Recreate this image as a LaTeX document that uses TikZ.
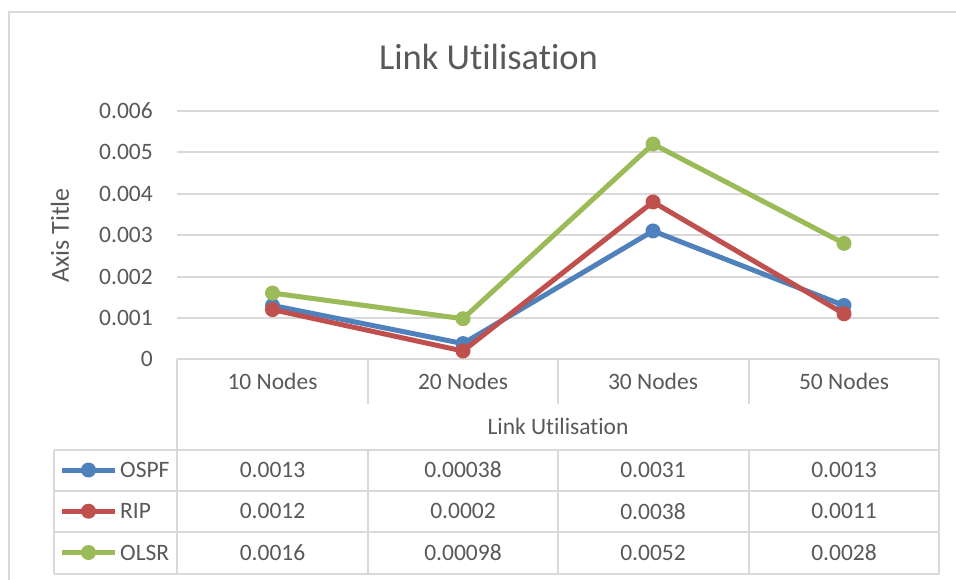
\documentclass[tikz,border=0pt]{standalone}
\usepackage{fontspec}
\setmainfont{Carlito}[Ligatures=NoCommon]
\usetikzlibrary{calc}
\definecolor{txt}{HTML}{595959}
\definecolor{gridc}{HTML}{D9D9D9}
\definecolor{ospf}{HTML}{4F81BD}
\definecolor{rip}{HTML}{C0504D}
\definecolor{olsr}{HTML}{9BBB59}
\begin{document}
\begin{tikzpicture}[x=1pt,y=-1pt,
  lbl/.style={text=txt,font=\fontsize{23.5}{28}\selectfont,inner sep=0pt},
  axl/.style={text=txt,font=\fontsize{26}{30}\selectfont,inner sep=0pt},
  ttl/.style={text=txt,font=\fontsize{36.5}{40}\selectfont,inner sep=0pt},
  rule/.style={draw=gridc,line width=2pt},
  series/.style={line width=5pt,line join=round,line cap=round},
  dot/.style={circle,fill=#1,inner sep=0pt,minimum size=15pt}]
\useasboundingbox (0,0) rectangle (956,579);
\fill[white] (0,0) rectangle (956,579);

% chart area frame
\draw[rule] (9,590) -- (9,12) -- (970,12);

% title and axis title
\node[ttl] (title) at (488.5,56.5) {Link Utilisation};
\node[axl,rotate=90] (ytitle) at (60,235.5) {Axis Title};

% horizontal gridlines and tick labels
\foreach \v/\t in {1/0.001,2/0.002,3/0.003,4/0.004,5/0.005,6/0.006}{
  \draw[rule] (177,{359.3-41.4*\v}) -- (939,{359.3-41.4*\v});
  \node[lbl,anchor=east] (tick\v) at (153,{359.3-41.4*\v}) {\t};
}
\node[lbl,anchor=east] (tick0) at (153,359.3) {0};

% data table grid
\draw[rule] (177,359.3) -- (939,359.3);
\draw[rule] (177,359.3) -- (177,574);
\draw[rule] (939,359.3) -- (939,574);
\foreach \x in {367.7,557.7,748.7}{
  \draw[rule] (\x,359.3) -- (\x,404.3);
  \draw[rule] (\x,450) -- (\x,574);
}
\foreach \y in {450,491,532.3,574}{
  \draw[rule] (54.3,\y) -- (939,\y);
}
\draw[rule] (54.3,450) -- (54.3,574);

% category labels
\foreach \x/\c [count=\i] in {272.5/10,463/20,653/30,844/50}{
  \node[lbl] (cat\i) at (\x,381.5) {\c\ Nodes};
}
\node[lbl] (xtitle) at (558,426.5) {Link Utilisation};

% table values
\foreach \r/\y in {ospf/470,rip/511.2,olsr/552.5}{
  \coordinate (\r-la) at (62,\y);
  \coordinate (\r-lb) at (115,\y);
}
\foreach \a/\b/\c/\d [count=\i] in {0.0013/0.0012/0.0016/272.5,0.00038/0.0002/0.00098/463,0.0031/0.0038/0.0052/653,0.0013/0.0011/0.0028/844}{
  \node[lbl] (vo\i) at (\d,470) {\a};
  \node[lbl] (vr\i) at (\d,511.2) {\b};
  \node[lbl] (vg\i) at (\d,552.5) {\c};
}

% legend keys
\foreach \r/\n in {ospf/OSPF,rip/RIP,olsr/OLSR}{
  \draw[series,\r,line cap=butt] (\r-la) -- (\r-lb);
  \node[dot=\r] (\r-key) at ($(\r-la)!0.5!(\r-lb)$) {};
  \node[lbl,anchor=west] (\r-name) at ($(\r-lb)+(5,0)$) {\n};
}

% data series (values given in thousandths)
\foreach \r/\a/\b/\c/\d in {ospf/1.3/0.38/3.1/1.3,rip/1.2/0.2/3.8/1.1,olsr/1.6/0.98/5.2/2.8}{
  \coordinate (\r1) at (272.5,{359.3-41.4*\a});
  \coordinate (\r2) at (463,{359.3-41.4*\b});
  \coordinate (\r3) at (653,{359.3-41.4*\c});
  \coordinate (\r4) at (844,{359.3-41.4*\d});
  \draw[series,\r] (\r1) -- (\r2) -- (\r3) -- (\r4);
  \foreach \k in {1,2,3,4}{ \node[dot=\r] at (\r\k) {}; }
}
\end{tikzpicture}
\end{document}
